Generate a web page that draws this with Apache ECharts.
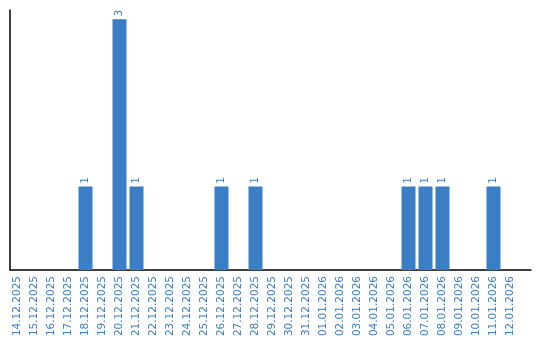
<!DOCTYPE html>
<html><head><meta charset="utf-8">
<script src="https://cdn.jsdelivr.net/npm/echarts@6/dist/echarts.min.js"></script>
<style>html,body{margin:0;padding:0;background:#fff}#c{width:540px;height:340px}</style>
</head><body><div id="c"></div>
<script>
const categories = ["14.12.2025","15.12.2025","16.12.2025","17.12.2025","18.12.2025","19.12.2025","20.12.2025","21.12.2025","22.12.2025","23.12.2025","24.12.2025","25.12.2025","26.12.2025","27.12.2025","28.12.2025","29.12.2025","30.12.2025","31.12.2025","01.01.2026","02.01.2026","03.01.2026","04.01.2026","05.01.2026","06.01.2026","07.01.2026","08.01.2026","09.01.2026","10.01.2026","11.01.2026","12.01.2026"];
const values = [0,0,0,0,1,0,3,1,0,0,0,0,1,0,1,0,0,0,0,0,0,0,0,1,1,1,0,0,1,0];
const blue = '#3b7ec3';
const chart = echarts.init(document.getElementById('c'));
chart.setOption({
  animation: false,
  grid: [
    {left: 9, right: 21, top: 10, bottom: 70},
    {left: 10, right: 9, top: 10, bottom: 70}
  ],
  xAxis: [
    {type: 'category', gridIndex: 0, data: categories,
     axisLine: {show: false}, axisTick: {show: false},
     axisLabel: {rotate: 90, interval: 0, margin: 6, color: blue, fontSize: 10.5, fontFamily: 'DejaVu Sans'}},
    {type: 'value', gridIndex: 1, min: 0, max: 1,
     axisLine: {show: true, lineStyle: {color: '#000', width: 1.5}}, axisTick: {show: false},
     axisLabel: {show: false}, splitLine: {show: false}}
  ],
  yAxis: [
    {type: 'value', gridIndex: 0, min: 0, max: 3.11,
     axisLine: {show: false}, axisTick: {show: false}, axisLabel: {show: false}, splitLine: {show: false}},
    {type: 'value', gridIndex: 1, min: 0, max: 1,
     axisLine: {show: true, lineStyle: {color: '#000', width: 1.5}}, axisTick: {show: false},
     axisLabel: {show: false}, splitLine: {show: false}}
  ],
  series: [{
    type: 'bar', xAxisIndex: 0, yAxisIndex: 0,
    data: values.map(v => v === 0 ? null : v),
    barWidth: 14,
    itemStyle: {color: blue},
    label: {show: true, position: 'top', rotate: 90, align: 'left', verticalAlign: 'middle',
            distance: 3, color: blue, fontSize: 10, fontFamily: 'DejaVu Sans'}
  }]
});
</script></body></html>
